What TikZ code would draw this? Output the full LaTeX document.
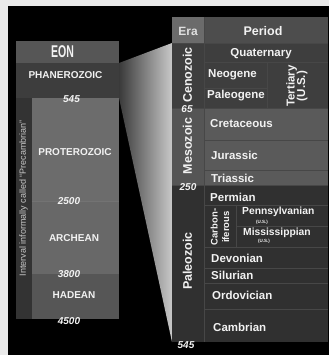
\documentclass[tikz,border=0pt]{standalone}
\usepackage{fontspec}
\setmainfont{Liberation Sans}
\definecolor{bg}{HTML}{EAEAEA}
\definecolor{fanL}{HTML}{3A3A3A}
\definecolor{fanR}{HTML}{C8C8C8}
\definecolor{eonhead}{HTML}{565656}
\definecolor{phan}{HTML}{3D3D3D}
\definecolor{precol}{HTML}{333333}
\definecolor{prot}{HTML}{6C6C6C}
\definecolor{arch}{HTML}{686868}
\definecolor{had}{HTML}{565656}
\definecolor{erahead}{HTML}{6B6B6B}
\definecolor{perhead}{HTML}{4D4D4D}
\definecolor{ceno}{HTML}{3E3E3E}
\definecolor{meso}{HTML}{555555}
\definecolor{mesop}{HTML}{5A5A5A}
\definecolor{paleo}{HTML}{303030}
\definecolor{rule}{HTML}{474747}
\definecolor{txt}{HTML}{F2F2F2}
\definecolor{soft}{HTML}{C8C8C8}
\newcommand{\fs}[1]{\fontsize{#1}{#1}\selectfont}
\begin{document}
\begin{tikzpicture}[x=1pt,y=-1pt,
  lbl/.style={text=txt,inner sep=0pt,font=\bfseries\fs{11.5}},
  eonlbl/.style={text=txt,inner sep=0pt,font=\bfseries\fs{10}},
  num/.style={text=txt,inner sep=0pt,font=\bfseries\itshape\fs{10}},
  per/.style={lbl,anchor=west},
  eralbl/.style={text=txt,inner sep=0pt,font=\bfseries\fs{12.5},rotate=90},
  tiny/.style={text=txt,inner sep=0pt,font=\bfseries\fs{4.5}},
  rl/.style={draw=rule,line width=0.8pt}]
\useasboundingbox (0,0) rectangle (329,355);
\fill[bg] (0,0) rectangle (329,355);
\fill[black] (8,6) rectangle (329,355);
% fan
\shade[left color=fanL,right color=fanR] (119,63) -- (172,43) -- (172,342) -- (119,98) -- cycle;
% left eon column
\fill[eonhead] (16,41) rectangle (119,63);
\fill[phan] (16,63) rectangle (119,98);
\fill[precol] (16,98) rectangle (31.5,319);
\fill[prot] (31.5,98) rectangle (119,201);
\fill[arch] (31.5,201) rectangle (119,274);
\fill[had] (31.5,274) rectangle (119,319);
\draw[draw=black!55,line width=0.6pt] (31.5,201) -- (119,201);
\node[text=txt,inner sep=0pt,font=\bfseries\fs{17},xscale=0.62] (eon) at (62.5,52) {EON};
\node[eonlbl] (phanero) at (65.5,75) {PHANEROZOIC};
\node[eonlbl] (protero) at (75,152) {PROTEROZOIC};
\node[eonlbl] (archean) at (74,238) {ARCHEAN};
\node[eonlbl] (hadean) at (74,295) {HADEAN};
\node[num] (n545a) at (71.5,99) {545};
\node[num] (n2500) at (69,201) {2500};
\node[num] (n3800) at (69,274) {3800};
\node[num] (n4500) at (69,321) {4500};
\node[text=soft,inner sep=0pt,font=\fs{9},rotate=90] (precam) at (23.5,198) {Interval informally called “Precambrian”};
% right table
\fill[erahead] (172,17) rectangle (204,43);
\fill[perhead] (204,17) rectangle (328,43);
\fill[ceno] (172,43) rectangle (328,108);
\fill[meso] (172,108) rectangle (204,185);
\fill[mesop] (204,108) rectangle (328,185);
\fill[paleo] (172,185) rectangle (328,342);
\draw[rl] (172,43) -- (328,43);
\draw[rl] (204,62) -- (328,62);
\draw[rl] (204,88) -- (267,88);
\draw[rl] (172,108) -- (328,108);
\draw[rl] (204,140) -- (328,140);
\draw[rl] (204,170) -- (328,170);
\draw[rl] (172,185) -- (328,185);
\draw[rl] (204,205) -- (328,205);
\draw[rl] (236,226) -- (328,226);
\draw[rl] (204,247) -- (328,247);
\draw[rl] (204,268) -- (328,268);
\draw[rl] (204,283) -- (328,283);
\draw[rl] (204,309) -- (328,309);
\draw[rl] (204,17) -- (204,342);
\draw[rl] (267,62) -- (267,108);
\draw[rl] (236,205) -- (236,247);
% headers
\node[lbl,text=black!12,font=\bfseries\fs{12}] (era) at (188,31) {Era};
\node[lbl,font=\bfseries\fs{12.5}] (period) at (263,31) {Period};
% eras
\node[eralbl] (cenozoic) at (187.5,75) {Cenozoic};
\node[eralbl] (mesozoic) at (187.5,146) {Mesozoic};
\node[eralbl] (paleozoic) at (187.5,261) {Paleozoic};
\node[num] (n65) at (187,109) {65};
\node[num] (n250) at (188,187) {250};
\node[num] (n545b) at (186,345) {545};
% periods
\node[lbl] (quat) at (261,54) {Quaternary};
\node[per] (neo) at (208,75) {Neogene};
\node[per] (paleog) at (207,96) {Paleogene};
\node[lbl,rotate=90,align=center,font=\bfseries\fs{11.5}] (tert) at (297,86) {Tertiary\\[-1pt](U.S.)};
\node[per] (cret) at (210,124) {Cretaceous};
\node[per] (jur) at (211,155) {Jurassic};
\node[per] (tri) at (211,178) {Triassic};
\node[per] (perm) at (210,197) {Permian};
\node[lbl,rotate=90,align=center,font=\bfseries\fs{9.5}] (carb) at (220,227) {Carbon-\\[2pt]iferous};
\node[per,font=\bfseries\fs{10.3}] (penn) at (242,212) {Pennsylvanian};
\node[tiny] (us1) at (262,222.5) {(U.S.)};
\node[per,font=\bfseries\fs{10.3}] (miss) at (243,233) {Mississippian};
\node[tiny] (us2) at (264,241.5) {(U.S.)};
\node[per] (dev) at (211,258) {Devonian};
\node[per] (sil) at (211,275) {Silurian};
\node[per] (ord) at (212,295) {Ordovician};
\node[per] (camb) at (213,327) {Cambrian};
\end{tikzpicture}
\end{document}
